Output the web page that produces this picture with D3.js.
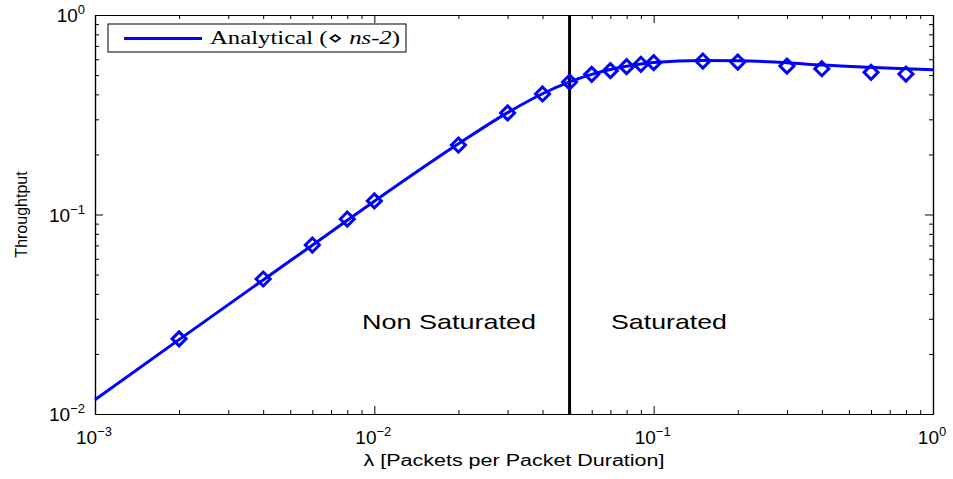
<!DOCTYPE html>
<html>
<head>
<meta charset="utf-8">
<script src="https://cdn.jsdelivr.net/npm/d3@7"></script>
<style>
  body { margin: 0; background: #fff; }
  text { font-family: "Liberation Sans", Arial, sans-serif; }
</style>
</head>
<body>
<div id="chart"></div>
<script>
// analytical curve
var lambdaAn = [0.001, 0.002, 0.004, 0.006, 0.008, 0.01, 0.02, 0.03, 0.04, 0.05, 0.06, 0.07, 0.08, 0.09, 0.1, 0.15, 0.2, 0.3, 0.4, 0.6, 0.8, 1.0];
var thrAn = [0.0118, 0.0236, 0.0470, 0.0702, 0.0935, 0.1165, 0.226, 0.324, 0.403, 0.462, 0.504, 0.533, 0.553, 0.568, 0.578, 0.592, 0.590, 0.577, 0.561, 0.547, 0.538, 0.532];
// ns-2 simulation points
var lambdaSim = [0.002, 0.004, 0.006, 0.008, 0.01, 0.02, 0.03, 0.04, 0.05, 0.06, 0.07, 0.08, 0.09, 0.1, 0.15, 0.2, 0.3, 0.4, 0.6, 0.8];
var thrSim = [0.0238, 0.0475, 0.0703, 0.0949, 0.117, 0.223, 0.323, 0.402, 0.461, 0.504, 0.526, 0.551, 0.566, 0.577, 0.588, 0.581, 0.555, 0.538, 0.516, 0.506];
var saturationPoint = 0.05;
var xExponents = [-3, -2, -1, 0];
var yExponents = [-2, -1, 0];

var W = 953, H = 479;
var margin = {top: 15, right: 20, bottom: 65, left: 95},
    width = W - margin.left - margin.right,
    height = H - margin.top - margin.bottom;

var svg = d3.select("#chart").append("svg")
    .attr("width", W).attr("height", H)
  .append("g")
    .attr("transform", "translate(" + margin.left + "," + margin.top + ")");

var x = d3.scaleLog().domain([1e-3, 1]).range([0, width]);
var y = d3.scaleLog().domain([1e-2, 1]).range([height, 0]);

function minors(exps) {
  var out = [];
  for (var e = exps[0]; e < exps[exps.length - 1]; e++)
    for (var m = 2; m <= 9; m++) out.push(m * Math.pow(10, e));
  return out;
}
var xMajor = xExponents.map(function(e) { return Math.pow(10, e); });
var yMajor = yExponents.map(function(e) { return Math.pow(10, e); });

function styleAxis(g) {
  g.select(".domain").attr("stroke", "#000").attr("stroke-width", 1.2);
  g.selectAll(".tick line").attr("stroke", "#000").attr("stroke-width", 1);
}

// bottom / top
svg.append("g").attr("transform", "translate(0," + height + ")")
  .call(d3.axisBottom(x).tickValues(minors(xExponents)).tickSize(-4).tickSizeOuter(0).tickFormat(""))
  .call(styleAxis);
svg.append("g").attr("transform", "translate(0," + height + ")")
  .call(d3.axisBottom(x).tickValues(xMajor).tickSize(-8).tickSizeOuter(0).tickFormat(""))
  .call(styleAxis);
svg.append("g")
  .call(d3.axisTop(x).tickValues(minors(xExponents)).tickSize(-4).tickSizeOuter(0).tickFormat(""))
  .call(styleAxis);
svg.append("g")
  .call(d3.axisTop(x).tickValues(xMajor).tickSize(-8).tickSizeOuter(0).tickFormat(""))
  .call(styleAxis);

// left / right
svg.append("g")
  .call(d3.axisLeft(y).tickValues(minors(yExponents)).tickSize(-4).tickSizeOuter(0).tickFormat(""))
  .call(styleAxis);
svg.append("g")
  .call(d3.axisLeft(y).tickValues(yMajor).tickSize(-8).tickSizeOuter(0).tickFormat(""))
  .call(styleAxis);
svg.append("g").attr("transform", "translate(" + width + ",0)")
  .call(d3.axisRight(y).tickValues(minors(yExponents)).tickSize(-4).tickSizeOuter(0).tickFormat(""))
  .call(styleAxis);
svg.append("g").attr("transform", "translate(" + width + ",0)")
  .call(d3.axisRight(y).tickValues(yMajor).tickSize(-8).tickSizeOuter(0).tickFormat(""))
  .call(styleAxis);

// power-of-ten labels
function powLabel(t, e) {
  t.text("10").append("tspan")
    .attr("dy", "-0.6em").attr("font-size", "13px")
    .text(e < 0 ? "\u2212" + (-e) : e);
}
xExponents.forEach(function(e) {
  var t = svg.append("text")
    .attr("x", x(Math.pow(10, e)) - 1)
    .attr("y", height + 30)
    .attr("text-anchor", "middle")
    .attr("font-size", "19px")
    .attr("fill", "#000");
  powLabel(t, e);
});
yExponents.forEach(function(e) {
  var t = svg.append("text")
    .attr("x", -10)
    .attr("y", y(Math.pow(10, e)) + 7)
    .attr("text-anchor", "end")
    .attr("font-size", "19px")
    .attr("fill", "#000");
  powLabel(t, e);
});

// axis titles
svg.append("text")
  .attr("x", width / 2).attr("y", height + 52)
  .attr("text-anchor", "middle")
  .attr("font-size", "16px")
  .attr("textLength", 301).attr("lengthAdjust", "spacingAndGlyphs")
  .text("\u03bb [Packets per Packet Duration]");

svg.append("text")
  .attr("transform", "translate(" + (-68) + "," + (height / 2) + ") rotate(-90)")
  .attr("text-anchor", "middle")
  .attr("font-size", "16px")
  .text("Throughtput");

// saturation boundary
svg.append("line")
  .attr("x1", x(saturationPoint)).attr("x2", x(saturationPoint))
  .attr("y1", 0).attr("y2", height)
  .attr("stroke", "#000").attr("stroke-width", 3);

svg.append("text")
  .attr("x", 267).attr("y", 314)
  .attr("font-size", "21px")
  .attr("textLength", 174).attr("lengthAdjust", "spacingAndGlyphs")
  .text("Non Saturated");
svg.append("text")
  .attr("x", 516).attr("y", 314)
  .attr("font-size", "21px")
  .attr("textLength", 116).attr("lengthAdjust", "spacingAndGlyphs")
  .text("Saturated");

// analytical line
var anData = lambdaAn.map(function(l, i) { return [l, thrAn[i]]; });
var line = d3.line()
  .x(function(d) { return x(d[0]); })
  .y(function(d) { return y(d[1]); })
  .curve(d3.curveMonotoneX);
svg.append("path")
  .datum(anData)
  .attr("fill", "none")
  .attr("stroke", "#0000ff")
  .attr("stroke-width", 3)
  .attr("d", line);

// ns-2 diamonds
var r = 7;
svg.selectAll(".sim")
  .data(lambdaSim.map(function(l, i) { return [l, thrSim[i]]; }))
  .enter().append("path")
  .attr("class", "sim")
  .attr("transform", function(d) { return "translate(" + x(d[0]) + "," + y(d[1]) + ")"; })
  .attr("d", "M0," + (-r) + "L" + r + ",0L0," + r + "L" + (-r) + ",0Z")
  .attr("fill", "none")
  .attr("stroke", "#0000ff")
  .attr("stroke-width", 3);

// legend
var lg = svg.append("g").attr("transform", "translate(13,9)");
lg.append("rect")
  .attr("width", 298).attr("height", 28)
  .attr("fill", "#fff").attr("stroke", "#000").attr("stroke-width", 1);
lg.append("line")
  .attr("x1", 16).attr("x2", 94).attr("y1", 14.5).attr("y2", 14.5)
  .attr("stroke", "#0000ff").attr("stroke-width", 3);
var lt = lg.append("text")
  .attr("x", 102).attr("y", 20)
  .attr("font-size", "18px")
  .attr("textLength", 190).attr("lengthAdjust", "spacingAndGlyphs")
  .style("font-family", "'Liberation Serif', 'DejaVu Serif', serif");
lt.append("tspan").text("Analytical (");
lt.append("tspan").text("\u22c4 ");
lt.append("tspan").attr("font-style", "italic").text("ns-2");
lt.append("tspan").text(")");
</script>
</body>
</html>
